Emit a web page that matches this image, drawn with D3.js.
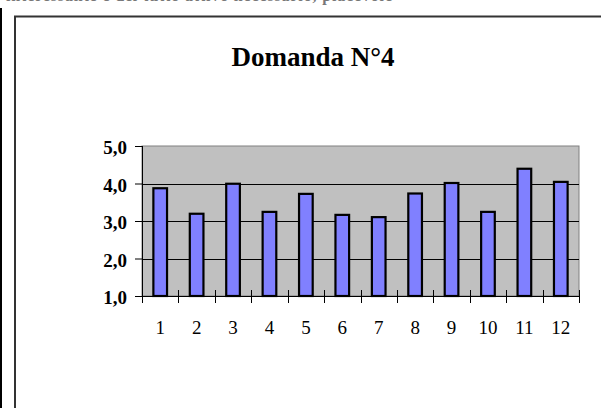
<!DOCTYPE html>
<html>
<head>
<meta charset="utf-8">
<script src="https://cdn.jsdelivr.net/npm/d3@7"></script>
<style>
  body { margin: 0; background: #fff; }
  svg { display: block; font-family: "Liberation Serif", "Times New Roman", serif; }
</style>
</head>
<body>
<div id="chart"></div>
<script>
// Domanda N°4 - media delle risposte per gruppo
const categories = ['1', '2', '3', '4', '5', '6', '7', '8', '9', '10', '11', '12'];
const values = [3.9, 3.22, 4.02, 3.27, 3.75, 3.19, 3.13, 3.76, 4.04, 3.27, 4.42, 4.07];
const yTicks = [1, 2, 3, 4, 5];

const W = 601, H = 408;
const plot = { left: 142, top: 146, right: 579, bottom: 296 };

const svg = d3.select('#chart')
  .append('svg')
  .attr('width', W)
  .attr('height', H);

// cut-off line of the page text above the chart
svg.append('text')
  .attr('x', 6)
  .attr('y', 0.5)
  .attr('font-size', '16px')
  .attr('font-weight', 'bold')
  .attr('fill', '#777')
  .attr('textLength', 386)
  .text('interessante e del tutto attivo necessario, piacevole');

// page margin bar and chart frame
svg.append('rect')
  .attr('x', 0).attr('y', 8)
  .attr('width', 2).attr('height', H - 8)
  .attr('fill', '#000');

svg.append('path')
  .attr('d', `M15,${H} V16.5 H${W}`)
  .attr('fill', 'none')
  .attr('stroke', '#333')
  .attr('stroke-width', 2);

svg.append('text')
  .attr('x', 313)
  .attr('y', 66)
  .attr('text-anchor', 'middle')
  .attr('font-size', '27px')
  .attr('font-weight', 'bold')
  .text('Domanda N°4');

const x = d3.scaleBand()
  .domain(categories)
  .range([plot.left, plot.right])
  .paddingInner(0.57)
  .paddingOuter(0.285);

const y = d3.scaleLinear()
  .domain([1, 5])
  .range([plot.bottom, plot.top]);

// plot area
svg.append('rect')
  .attr('x', plot.left)
  .attr('y', plot.top)
  .attr('width', plot.right - plot.left)
  .attr('height', plot.bottom - plot.top)
  .attr('fill', '#c0c0c0')
  .attr('stroke', '#808080')
  .attr('stroke-width', 1);

// gridlines
svg.selectAll('.grid')
  .data(yTicks.slice(1, -1))
  .enter().append('line')
  .attr('x1', plot.left)
  .attr('x2', plot.right)
  .attr('y1', d => Math.round(y(d)) + 0.5)
  .attr('y2', d => Math.round(y(d)) + 0.5)
  .attr('stroke', '#000')
  .attr('stroke-width', 1);

// bars
svg.selectAll('.bar')
  .data(values)
  .enter().append('rect')
  .attr('class', 'bar')
  .attr('x', (d, i) => x(categories[i]) + 1)
  .attr('width', x.bandwidth() - 2)
  .attr('y', d => y(d) + 1)
  .attr('height', d => y(1) - y(d) - 1)
  .attr('fill', '#8080ff')
  .attr('stroke', '#000')
  .attr('stroke-width', 2.2);

// y axis
const yAxis = svg.append('g')
  .attr('transform', `translate(${plot.left},0)`)
  .call(d3.axisLeft(y)
    .tickValues(yTicks)
    .tickSize(7)
    .tickPadding(8)
    .tickFormat(d => d3.format('.1f')(d).replace('.', ',')));
yAxis.select('.domain').attr('stroke', '#000').attr('d', `M0.5,${plot.top}V${plot.bottom}`);
yAxis.selectAll('.tick line').attr('stroke', '#000');
yAxis.selectAll('text')
  .attr('fill', '#000')
  .attr('dy', '0.42em')
  .style('font-size', '19px')
  .style('font-weight', 'bold')
  .style('font-family', '"Liberation Serif", "Times New Roman", serif');

// x axis: crossing ticks on category boundaries
const xAxis = svg.append('g')
  .attr('transform', `translate(0,${plot.bottom})`)
  .call(d3.axisBottom(x).tickSize(0).tickPadding(25));
xAxis.select('.domain').attr('stroke', '#000').attr('d', `M${plot.left},0.5H${plot.right + 1}`);
xAxis.selectAll('text')
  .attr('fill', '#000')
  .style('font-size', '19px')
  .style('font-family', '"Liberation Serif", "Times New Roman", serif');

const boundaries = categories.map(c => x(c) - x.step() * x.paddingInner() / 2);
boundaries.push(plot.right);
xAxis.selectAll('.sep')
  .data(boundaries)
  .enter().append('line')
  .attr('x1', d => Math.round(d) + 0.5)
  .attr('x2', d => Math.round(d) + 0.5)
  .attr('y1', (d, i) => i === 0 ? 0 : -6)
  .attr('y2', 7)
  .attr('stroke', '#000');
</script>
</body>
</html>
